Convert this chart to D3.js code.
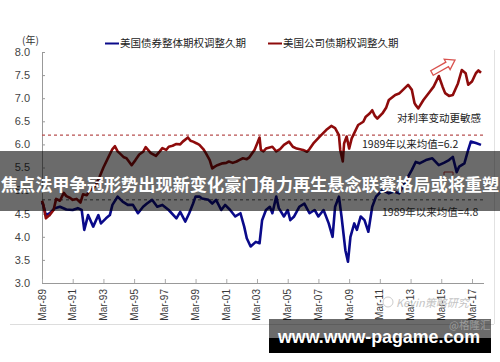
<!DOCTYPE html>
<html><head><meta charset="utf-8">
<script src="https://cdn.jsdelivr.net/npm/d3@7"></script>
<style>body{margin:0;background:#fff;}svg{display:block;}</style>
</head><body>
<svg id="c" width="500" height="362"></svg>
<script>
const yTicks = [3.0,3.5,4.0,4.5,5.0,5.5,6.0,6.5,7.0,7.5,8.0];
const xTickYears = [1989,1991,1993,1995,1997,1999,2001,2003,2005,2007,2009,2011,2013,2015,2017];
const seriesNames = ["美国债券整体期权调整久期","美国公司债期权调整久期"];
const meanValues = [6.2, 4.8];
const corpDates = ["1989-03","1989-04","1989-06","1989-08","1989-09","1989-12","1990-02","1990-05","1990-08","1990-10","1991-01","1991-03","1991-06","1991-09","1991-11","1992-02","1992-04","1992-07","1992-09","1992-12","1993-03","1993-07","1993-10","1993-12","1994-02","1994-04","1994-07","1994-09","1995-01","1995-04","1995-07","1995-10","1995-12","1996-04","1996-08","1996-11","1997-01","1997-04","1997-06","1997-09","1997-12","1998-03","1998-05","1998-09","1998-11","1999-01","1999-04","1999-06","1999-09","1999-11","2000-02","2000-04","2000-06","2000-08","2000-12","2001-03","2001-05","2001-08","2001-11","2002-01","2002-04","2002-07","2002-09","2003-01","2003-03","2003-05","2003-06","2003-08","2003-10","2004-03","2004-06","2004-09","2004-12","2005-04","2005-07","2005-10","2006-03","2006-06","2006-08","2006-11","2007-04","2007-09","2008-01","2008-04","2008-07","2008-08","2008-10","2008-11","2009-01","2009-03","2009-05","2009-10","2010-02","2010-04","2010-07","2010-09","2010-11","2011-01","2011-05","2011-08","2011-10","2012-03","2012-06","2012-09","2013-01","2013-04","2013-06","2013-07","2013-09","2014-01","2014-06","2014-09","2015-01","2015-04","2015-06","2015-09","2015-12","2016-04","2016-07","2016-10","2016-12","2017-03","2017-06","2017-08","2017-10"];
const corpValues = [4.78,4.70,4.40,4.45,4.47,4.58,4.82,4.78,4.95,4.88,4.84,4.80,4.82,4.74,4.92,4.90,5.00,5.05,5.12,5.30,5.50,5.73,5.90,5.96,5.85,5.80,5.72,5.70,5.55,5.66,5.78,5.84,5.94,5.81,5.75,5.85,5.92,5.88,5.95,5.97,6.01,6.00,6.06,6.15,6.08,6.06,6.02,5.99,5.90,5.81,5.66,5.48,5.52,5.55,5.59,5.60,5.63,5.60,5.63,5.66,5.70,5.68,5.72,5.88,6.01,6.15,5.88,5.85,5.91,5.95,5.85,5.90,5.99,6.06,5.95,5.91,5.88,5.84,5.90,6.02,6.17,6.31,6.40,6.35,6.20,5.88,5.63,6.02,6.17,5.91,6.13,6.42,6.49,6.60,6.67,6.74,6.62,6.56,6.67,6.80,6.96,7.07,7.10,7.18,7.29,7.18,6.90,6.85,6.78,6.96,7.14,7.25,7.48,7.25,7.11,7.05,7.07,7.32,7.61,7.54,7.29,7.36,7.54,7.60,7.55];
const aggDates = ["1989-03","1989-04","1989-06","1989-09","1990-01","1990-05","1990-10","1991-03","1991-07","1991-10","1991-12","1992-03","1992-07","1992-11","1993-01","1993-05","1993-08","1993-10","1994-02","1994-06","1994-10","1995-02","1995-06","1995-10","1996-01","1996-05","1996-09","1997-01","1997-06","1997-12","1998-03","1998-07","1998-10","1999-01","1999-03","1999-06","1999-08","2000-01","2000-04","2000-07","2000-11","2001-02","2001-06","2001-10","2002-02","2002-05","2002-07","2002-10","2003-02","2003-05","2003-07","2003-10","2004-01","2004-03","2004-06","2004-08","2004-12","2005-03","2005-05","2005-08","2005-12","2006-04","2006-08","2006-12","2007-03","2007-07","2007-11","2008-02","2008-04","2008-07","2008-09","2008-12","2009-02","2009-04","2009-07","2009-09","2009-12","2010-03","2010-06","2010-09","2010-12","2011-05","2011-10","2012-02","2012-06","2012-11","2013-04","2013-07","2013-10","2014-03","2014-08","2015-01","2015-05","2015-09","2015-12","2016-03","2016-05","2016-09","2016-12","2017-02","2017-06","2017-10"];
const aggValues = [4.75,4.68,4.47,4.51,4.62,4.65,4.59,4.58,4.62,4.58,4.15,4.47,4.22,4.47,4.29,4.40,4.47,4.69,4.87,4.76,4.69,4.69,4.51,4.65,4.72,4.80,4.65,4.69,4.58,4.40,4.54,4.33,4.51,4.72,4.87,4.87,4.83,4.80,4.72,4.80,4.58,4.69,4.58,4.44,4.51,4.22,3.97,3.79,3.89,3.86,4.36,4.58,4.65,4.51,4.87,4.62,4.44,4.58,4.36,4.44,4.65,4.72,4.51,4.58,4.44,4.58,4.29,4.00,4.65,4.87,4.44,3.71,3.46,4.00,4.29,4.15,4.44,4.36,4.11,4.65,4.87,5.01,4.94,4.98,4.94,5.20,5.45,5.62,5.59,5.66,5.70,5.55,5.60,5.66,5.73,5.40,5.52,5.59,5.88,6.06,6.03,5.99];

const parse = d3.timeParse("%Y-%m");
const corp = corpDates.map((d,i)=>({date:parse(d),v:corpValues[i]}));
const agg = aggDates.map((d,i)=>({date:parse(d),v:aggValues[i]}));

const svg = d3.select("#c");
const x = d3.scaleTime().domain([new Date(1989,2,1), new Date(2017,2,1)]).range([42,472]);
const y = d3.scaleLinear().domain([3,8]).range([283,52]);
const CJK = "'Noto Sans CJK SC','Noto Sans',sans-serif";
const LAT = "'Liberation Sans',Arial,sans-serif";

// frame lines
svg.append("line").attr("x1",10).attr("x2",494).attr("y1",324.5).attr("y2",324.5).attr("stroke","#ddd");
svg.append("line").attr("x1",494.5).attr("x2",494.5).attr("y1",50).attr("y2",324).attr("stroke","#e2e2e2");

// y axis
const yAx = svg.append("g").attr("transform","translate(42,0)")
  .call(d3.axisRight(y).tickValues(yTicks).tickSize(3).tickFormat(""));
yAx.select(".domain").attr("stroke","#999");
yAx.selectAll(".tick line").attr("stroke","#999");
svg.append("g").selectAll("text").data(yTicks).join("text")
  .attr("x",30).attr("y",d=>y(d)).attr("dy","0.35em").attr("text-anchor","end")
  .attr("font-family",LAT).attr("font-size",11).attr("fill","#444").text(d=>d.toFixed(1));
svg.append("text").attr("x",22).attr("y",44).attr("font-family",CJK).attr("font-size",10).attr("fill","#333").text("(年)");

// x axis
const xTicks = xTickYears.map(yr=>new Date(yr,2,1));
const xAx = svg.append("g").attr("transform","translate(0,283)")
  .call(d3.axisTop(x).tickValues(xTicks).tickSize(4).tickFormat("").tickSizeOuter(0));
xAx.select(".domain").attr("stroke","#999").attr("d","M42,0.5H484");
xAx.selectAll(".tick line").attr("stroke","#aaa");
const fmt = d3.timeFormat("%b-%y");
svg.append("g").selectAll("text").data(xTicks).join("text")
  .attr("transform",d=>`translate(${x(d)+3.5},289) rotate(-90)`)
  .attr("text-anchor","end").attr("font-family",LAT).attr("font-size",10).attr("fill","#3a3a3a")
  .text(d=>fmt(d));

// mean lines
svg.append("line").attr("x1",42).attr("x2",484).attr("y1",y(meanValues[0])).attr("y2",y(meanValues[0]))
  .attr("stroke","#b85050").attr("stroke-width",1.1).attr("stroke-dasharray","3,3");
svg.append("line").attr("x1",42).attr("x2",484).attr("y1",y(meanValues[1])).attr("y2",y(meanValues[1]))
  .attr("stroke","#555").attr("stroke-width",1).attr("stroke-dasharray","3,3");

// series
const line = d3.line().x(d=>x(d.date)).y(d=>y(d.v)).curve(d3.curveLinear);
svg.append("path").datum(agg).attr("d",line).attr("fill","none").attr("stroke","#0a0a8a").attr("stroke-width",2.6).attr("stroke-linejoin","round");
svg.append("path").datum(corp).attr("d",line).attr("fill","none").attr("stroke","#8e0b0b").attr("stroke-width",2.6).attr("stroke-linejoin","round");

// legend
svg.append("line").attr("x1",105).attr("x2",119).attr("y1",43.5).attr("y2",43.5).attr("stroke","#0a0a8a").attr("stroke-width",2);
svg.append("text").attr("x",120).attr("y",43.5).attr("dy","0.36em").attr("font-family",CJK).attr("font-size",10.5).attr("fill","#222").text(seriesNames[0]);
svg.append("line").attr("x1",268).attr("x2",282).attr("y1",43.5).attr("y2",43.5).attr("stroke","#8e0b0b").attr("stroke-width",2);
svg.append("text").attr("x",283).attr("y",43.5).attr("dy","0.36em").attr("font-family",CJK).attr("font-size",10.5).attr("fill","#222").text(seriesNames[1]);

// annotations
svg.append("text").attr("x",397).attr("y",118).attr("dy","0.36em").attr("font-family",CJK).attr("font-size",10.5).attr("fill","#222").text("对利率变动更敏感");
svg.append("text").attr("x",362).attr("y",y(meanValues[0])+9).attr("dy","0.36em").attr("font-family",CJK).attr("font-size",10.5).attr("fill","#222").text("1989年以来均值="+meanValues[0]);
svg.append("text").attr("x",382).attr("y",y(meanValues[1])+12).attr("dy","0.36em").attr("font-family",CJK).attr("font-size",10.5).attr("fill","#333").text("1989年以来均值="+meanValues[1]);

// block arrow
(function(){
  const t=[432,73], h=[455,60];
  const dx=h[0]-t[0], dy=h[1]-t[1], L=Math.hypot(dx,dy);
  const u=[dx/L,dy/L], n=[-u[1],u[0]];
  const bw=2.6, hw=6, hl=9;
  const P=(a,b)=>[t[0]+u[0]*a+n[0]*b, t[1]+u[1]*a+n[1]*b];
  const pts=[P(0,bw),P(L-hl,bw),P(L-hl,hw),P(L,0),P(L-hl,-hw),P(L-hl,-bw),P(0,-bw)];
  svg.append("polygon").attr("points",pts.map(p=>p.join(",")).join(" "))
    .attr("fill","#fff").attr("stroke","#d9534f").attr("stroke-width",1.3);
})();
svg.append("path").attr("d","M444,175V172H453V175").attr("fill","none").attr("stroke","#c03030").attr("stroke-width",1);

// faint watermark
svg.append("circle").attr("cx",388).attr("cy",302).attr("r",5).attr("fill","none").attr("stroke","#ccc").attr("stroke-width",1);
svg.append("text").attr("x",396).attr("y",303).attr("dy","0.36em").attr("font-family",CJK).attr("font-size",11).attr("fill","#c4c4c4").attr("font-style","italic").text("Kevin策略研究");

// overlay banner
svg.append("rect").attr("x",0).attr("y",151).attr("width",500).attr("height",60).attr("fill","rgba(0,0,0,0.58)");
svg.append("text").attr("x",250).attr("y",183).attr("dominant-baseline","central").attr("text-anchor","middle")
  .attr("font-family",CJK).attr("font-weight",700).attr("font-size",17.2).attr("fill","#fff")
  .text("焦点法甲争冠形势出现新变化豪门角力再生悬念联赛格局或将重塑");

// bottom watermark box
svg.append("rect").attr("x",269).attr("y",319).attr("width",222).attr("height",34).attr("fill","rgba(0,0,0,0.58)");
svg.append("rect").attr("x",269).attr("y",338).attr("width",222).attr("height",15).attr("fill","#000");
svg.append("text").attr("x",449).attr("y",325).attr("dy","0.36em").attr("font-family",CJK).attr("font-size",10.5).attr("fill","rgba(200,200,200,0.55)").text("@格隆汇");
svg.append("text").attr("x",278).attr("y",343).attr("font-family",LAT).attr("font-weight",700).attr("font-size",18.5)
  .attr("fill","#fff").attr("textLength",202).attr("lengthAdjust","spacingAndGlyphs").text("www.www-pagame.com");
</script>
</body></html>
